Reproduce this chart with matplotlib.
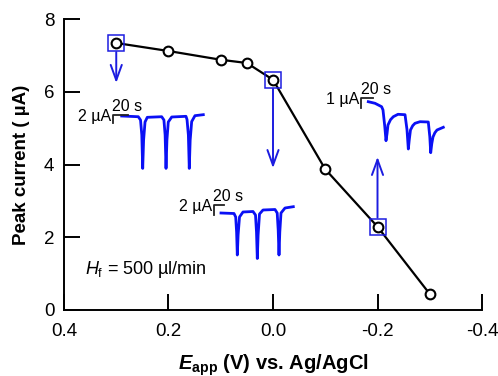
import numpy as np
from matplotlib import pyplot as plt

plt.rcParams['font.family'] = 'Liberation Sans'
plt.rcParams['mathtext.fontset'] = 'custom'
plt.rcParams['mathtext.rm'] = 'Liberation Sans'
plt.rcParams['mathtext.it'] = 'Liberation Sans:italic'
plt.rcParams['mathtext.bf'] = 'Liberation Sans:bold'
plt.rcParams['mathtext.bfit'] = 'Liberation Sans:italic:bold'

# peak current vs applied potential
e_app = [0.3, 0.2, 0.1, 0.05, 0.0, -0.1, -0.2, -0.3]
i_peak = [7.34, 7.12, 6.88, 6.79, 6.33, 3.87, 2.29, 0.44]

# highlighted points and where their arrows point
sel_e = [0.3, 0.0, -0.2]
sel_i = [7.34, 6.33, 2.29]
arrow_to = [6.24, 3.90, 4.21]

# amperometric traces (time in s, current in uA)
t1 = [0, 22.1, 25.1, 26.8, 28.0, 29.2, 31.1, 34.1, 53.3, 56.3, 57.9, 59.1, 60.3, 62.1, 66.7,
      85.7, 87.1, 88.9, 90.1, 91.3, 93.3, 97.7, 108.8]
i1 = [0, -0.18, -1.0, -4.75, -13.1, -6.0, -1.5, -0.33, -0.18, -1.0, -4.75, -13.1, -6.0, -1.5, -0.25,
      -0.08, -0.9, -4.75, -13.1, -6.0, -1.4, 0.08, 0.33]

t2 = [0, 26, 29.4, 31.2, 32.6, 34.2, 37, 44, 64, 69, 71, 72.6, 74.2, 77, 84,
      108, 112.4, 114.4, 116, 117.6, 120, 128, 144.6]
i2 = [0, -0.1, -0.8, -3.8, -8.4, -4.4, -0.8, 0.2, 0.3, -0.4, -3.8, -9.1, -4.4, -0.2, 0.6,
      0.7, 0, -3.4, -8.4, -3.8, 0, 1.0, 1.26]

t3 = [0, 11.2, 22.2, 24.5, 27.5, 29.5, 31.2, 32.8, 37, 41.7, 49.5, 61.2, 64.5, 66.7, 68.3, 70.3,
      74, 77.8, 86.2, 100, 102.5, 104, 105.8, 107.8, 111, 114.5, 125]
i3 = [0, -0.16, -0.5, -0.83, -2.5, -3.9, -3.2, -2.33, -1.8, -1.5, -1.26, -1.3, -2.8, -4.73, -3.8, -2.83,
      -2.4, -2.16, -2.0, -2.03, -3.5, -5.1, -4.2, -3.53, -3.1, -2.83, -2.56]

W, H = 498, 376
fig = plt.figure(figsize=(W / 100, H / 100), dpi=100)
ax = fig.add_axes([64 / W, 1 - 310 / H, (482 - 64) / W, (310 - 19) / H])

blue = '#1c1ce0'
trace_blue = '#0a10f5'

ax.plot(e_app, i_peak, color='k', lw=1.6, marker='o', ms=7.0, mfc='white', mec='k', mew=1.5, zorder=3)
ax.plot(sel_e, sel_i, ls='none', marker='s', ms=12.2, mfc='none', mec=blue, mew=1.1, zorder=4)

sq_half = 0.25
for e, i0, i1_ in zip(sel_e, sel_i, arrow_to):
    start = i0 - sq_half if i1_ < i0 else i0 + sq_half
    ax.annotate('', xy=(e, i1_), xytext=(e, start),
                arrowprops=dict(arrowstyle='->,head_length=0.55,head_width=0.2', lw=1.4,
                                color=blue, mutation_scale=20, shrinkA=0, shrinkB=0))

ax.set_xlim(0.4, -0.4)
ax.set_ylim(0, 8)
ax.set_xticks([0.4, 0.2, 0.0, -0.2, -0.4])
ax.set_xticklabels(['0.4', '0.2', '0.0', '-0.2', '-0.4'])
ax.set_yticks([0, 2, 4, 6, 8])
for s in ['top', 'right']:
    ax.spines[s].set_visible(False)
for s in ['left', 'bottom']:
    ax.spines[s].set_linewidth(1.4)
ax.tick_params(direction='in', length=11.5, width=1.4, labelsize=13.5)
ax.tick_params(axis='x', pad=9)
ax.tick_params(axis='y', pad=7)

ax.set_xlabel(r'$\mathbfit{E}_{\mathbf{app}}$ (V) vs. Ag/AgCl', fontsize=14.5, fontweight='bold', labelpad=9)
ax.set_ylabel('Peak current ( \u00b5A)', fontsize=13.5, fontweight='bold', labelpad=10)

ax.text(0.36, 1.1, r'$H_{\mathrm{f}}$' + ' = 500 \u00b5l/min', fontsize=13, va='center')


def add_trace(t, i, origin, sx, sy, bar_i, bar_label, corner):
    # origin: figure pixel (from top-left) of t=0, i=0; sx px/s, sy px/uA
    tlim = (corner[0] - 5, max(t) + 5)
    ilim = (min(i) - 1, corner[1] + 8 / sy)
    left = origin[0] + tlim[0] * sx
    right = origin[0] + tlim[1] * sx
    top = origin[1] - ilim[1] * sy
    bottom = origin[1] - ilim[0] * sy
    a = fig.add_axes([left / W, 1 - bottom / H, (right - left) / W, (bottom - top) / H])
    a.set_xlim(tlim)
    a.set_ylim(ilim)
    a.axis('off')
    a.plot(t, i, color=trace_blue, lw=2.0, solid_joinstyle='round')
    tc, ic = corner
    a.plot([tc, tc, tc + 20], [ic - bar_i, ic, ic], color='#222222', lw=1.3, clip_on=False)
    a.text(tc - 1, ic + 1.0 / sy, '20 s', fontsize=11.5, ha='left', va='bottom')
    a.text(tc - 1.5 / sx, ic - 1.0 / sy, bar_label, fontsize=11.5, ha='right', va='center')


add_trace(t1, i1, (121.7, 116), 0.75, 4.0, 2, '2 \u00b5A', (-11.6, 0.25))
add_trace(t2, i2, (221, 213), 0.5, 5.0, 2, '2 \u00b5A', (-15, 1.6))
add_trace(t3, i3, (368.3, 101.7), 0.6, 10.0, 1, '1 \u00b5A', (-12, 0.35))

plt.savefig('out.png', dpi=100, facecolor='w')
